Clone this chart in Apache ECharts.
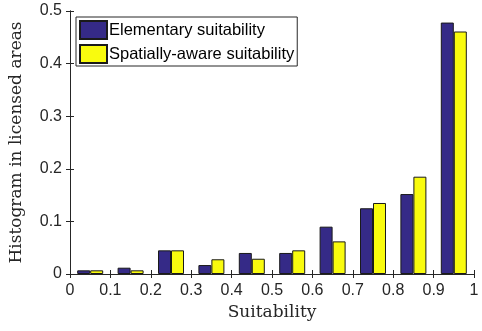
<!DOCTYPE html>
<html>
<head>
<meta charset="utf-8">
<script src="https://cdn.jsdelivr.net/npm/echarts@6/dist/echarts.min.js"></script>
<style>
  html, body { margin: 0; padding: 0; background: #fff; }
  #chart { width: 482px; height: 331px; }
</style>
</head>
<body>
<div id="chart"></div>
<script>
// bin centers and histogram values
var binCenters = [0.05, 0.15, 0.25, 0.35, 0.45, 0.55, 0.65, 0.75, 0.85, 0.95];
var elementary = [0.007, 0.012, 0.045, 0.017, 0.040, 0.040, 0.090, 0.125, 0.152, 0.478];
var spatial = [0.007, 0.007, 0.045, 0.028, 0.029, 0.045, 0.062, 0.135, 0.185, 0.461];
var seriesNames = ['Elementary suitability', 'Spatially-aware suitability'];

function pairs(vals) {
    var out = [];
    for (var i = 0; i < vals.length; i++) {
        out.push([binCenters[i], vals[i]]);
    }
    return out;
}

var chart = echarts.init(document.getElementById('chart'));
var axisLine = { show: true, lineStyle: { color: '#262626', width: 1 } };
var tickStyle = { inside: true, length: 4, lineStyle: { color: '#262626' } };
var labelFont = { color: '#262626', fontFamily: 'Liberation Sans', fontSize: 16 };

var option = {
    animation: false,
    grid: { left: 70, right: 8, top: 11, bottom: 57, outerBoundsMode: 'none', containLabel: false },
    legend: {
        orient: 'vertical',
        left: 76,
        top: 17,
        padding: [3, 3, 2, 3],
        itemGap: 4,
        itemWidth: 27,
        itemHeight: 18,
        borderColor: '#262626',
        borderWidth: 1,
        backgroundColor: '#fff',
        icon: 'rect',
        textStyle: { color: '#000', fontFamily: 'Liberation Sans', fontSize: 16.5, padding: [0, 0, 0, -3] },
        data: seriesNames
    },
    xAxis: [{
        type: 'value',
        min: 0,
        max: 1,
        interval: 0.1,
        name: 'Suitability',
        nameLocation: 'middle',
        nameGap: 30,
        nameTextStyle: { color: '#262626', fontFamily: 'DejaVu Serif', fontSize: 17 },
        axisLine: axisLine,
        axisTick: tickStyle,
        axisLabel: Object.assign({ margin: 9, formatter: function (v) { return String(+v.toFixed(1)); } }, labelFont),
        splitLine: { show: false }
    }, {
        type: 'value',
        position: 'top',
        min: 0,
        max: 1,
        interval: 0.1,
        axisLine: axisLine,
        axisTick: tickStyle,
        axisLabel: { show: false },
        splitLine: { show: false }
    }],
    yAxis: [{
        type: 'value',
        min: 0,
        max: 0.5,
        interval: 0.1,
        name: 'Histogram in licensed areas',
        nameLocation: 'middle',
        nameGap: 45,
        nameTextStyle: { color: '#262626', fontFamily: 'DejaVu Serif', fontSize: 17 },
        axisLine: axisLine,
        axisTick: tickStyle,
        axisLabel: Object.assign({ margin: 8, formatter: function (v) { return String(+v.toFixed(1)); } }, labelFont),
        splitLine: { show: false }
    }, {
        type: 'value',
        position: 'right',
        min: 0,
        max: 0.5,
        interval: 0.1,
        axisLine: axisLine,
        axisTick: tickStyle,
        axisLabel: { show: false },
        splitLine: { show: false }
    }],
    series: [{
        name: seriesNames[0],
        type: 'bar',
        data: pairs(elementary),
        barWidth: 13,
        barGap: '0%',
        itemStyle: { color: '#352a87', borderColor: '#1a1a1a', borderWidth: 1 }
    }, {
        name: seriesNames[1],
        type: 'bar',
        data: pairs(spatial),
        barWidth: 13,
        barGap: '0%',
        itemStyle: { color: '#f9fb0e', borderColor: '#1a1a1a', borderWidth: 1 }
    }]
};

option && chart.setOption(option);
</script>
</body>
</html>
